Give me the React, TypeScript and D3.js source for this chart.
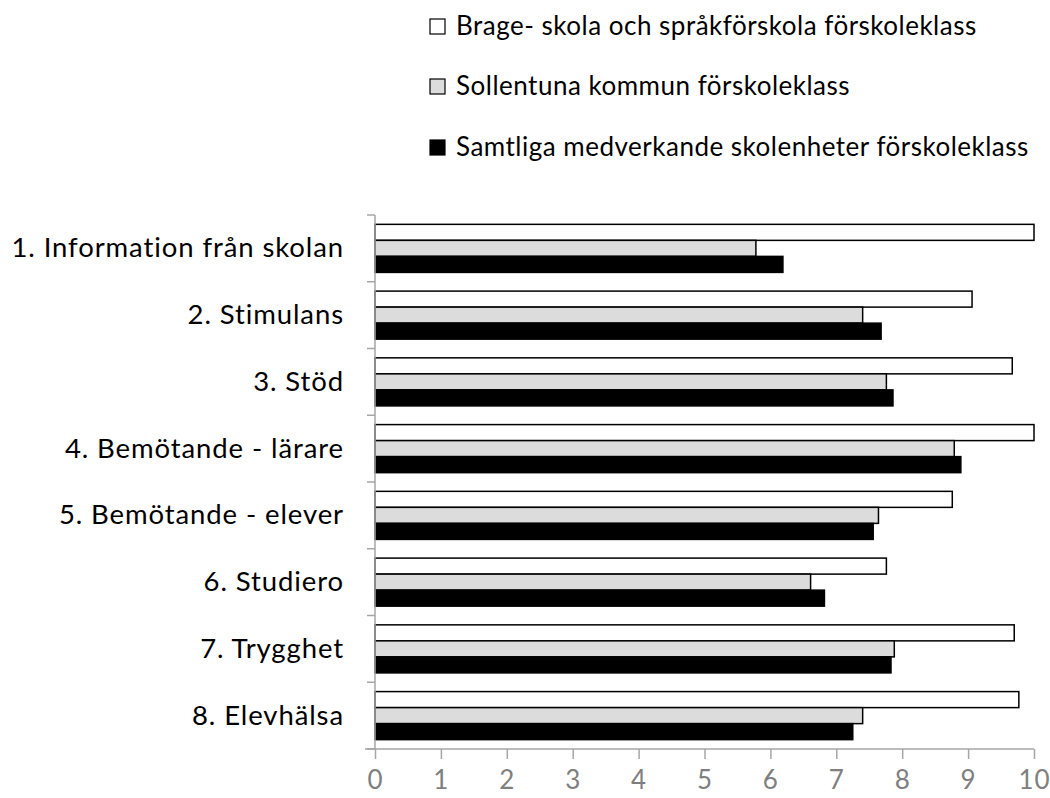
import React, { useRef, useEffect } from 'react';
import * as d3 from 'd3';

// categories (top to bottom)
const categories = [
    '1. Information från skolan',
    '2. Stimulans',
    '3. Stöd',
    '4. Bemötande - lärare',
    '5. Bemötande - elever',
    '6. Studiero',
    '7. Trygghet',
    '8. Elevhälsa',
];

const seriesNames = [
    'Brage- skola och språkförskola förskoleklass',
    'Sollentuna kommun förskoleklass',
    'Samtliga medverkande skolenheter förskoleklass',
];

const brage = [10, 9.06, 9.67, 10, 8.76, 7.76, 9.7, 9.77];
const sollentuna = [5.78, 7.4, 7.76, 8.79, 7.64, 6.61, 7.88, 7.4];
const samtliga = [6.19, 7.68, 7.86, 8.89, 7.56, 6.82, 7.83, 7.25];

const xTicks = [0, 1, 2, 3, 4, 5, 6, 7, 8, 9, 10];

const fills = ['#ffffff', '#dcdcdc', '#000000'];

const WIDTH = 1050;
const HEIGHT = 798;

const App = () => {
    const svgRef = useRef<SVGSVGElement>(null);

    useEffect(() => {
        const svg = d3.select(svgRef.current);
        svg.selectAll('*').remove();

        const font = 'Lato, Calibri, "Noto Sans", sans-serif';
        const values = [brage, sollentuna, samtliga];

        // Scales
        const x = d3.scaleLinear().domain([0, 10]).range([375, 1034]);
        const y = d3.scaleBand()
            .domain(categories)
            .range([215, 749])
            .paddingInner(0.28)
            .paddingOuter(0.14);
        const ySub = d3.scaleBand()
            .domain(seriesNames)
            .range([0, y.bandwidth()]);

        // Bars
        const rows = svg.append('g').selectAll('g')
            .data(categories)
            .enter()
            .append('g')
            .attr('transform', d => 'translate(0,' + y(d) + ')');

        rows.selectAll('rect')
            .data((d, i) => seriesNames.map((s, j) => ({ s, j, v: values[j][i] })))
            .enter()
            .append('rect')
            .attr('x', x(0))
            .attr('y', d => ySub(d.s)!)
            .attr('width', d => x(d.v) - x(0))
            .attr('height', ySub.bandwidth())
            .attr('fill', d => fills[d.j])
            .attr('stroke', '#000')
            .attr('stroke-width', 1.5);

        // X axis
        const xAxis = svg.append('g')
            .attr('transform', 'translate(0,749)')
            .call(d3.axisBottom(x).tickValues(xTicks).tickSize(10).tickSizeOuter(0).tickPadding(30));
        xAxis.select('.domain').remove();
        xAxis.append('line')
            .attr('x1', 365).attr('x2', x(10))
            .attr('stroke', '#a6a6a6').attr('stroke-width', 1.5);
        xAxis.selectAll('.tick line').attr('stroke', '#a6a6a6').attr('stroke-width', 1.5);
        xAxis.selectAll('.tick text')
            .attr('fill', '#7f7f7f')
            .attr('dy', 0)
            .style('font-family', font)
            .style('font-size', '26px')
            .style('letter-spacing', '1px');

        // Y axis
        const yAxis = svg.append('g');
        yAxis.append('line')
            .attr('x1', x(0)).attr('x2', x(0))
            .attr('y1', y.range()[0]).attr('y2', y.range()[1])
            .attr('stroke', '#a6a6a6').attr('stroke-width', 1.5);
        const bounds = categories.map(c => y(c)! - y.step() * y.paddingInner() / 2)
            .concat([y.range()[1]]);
        yAxis.selectAll('.ytick')
            .data(bounds)
            .enter()
            .append('line')
            .attr('x1', x(0) - 8).attr('x2', x(0))
            .attr('y1', d => d).attr('y2', d => d)
            .attr('stroke', '#a6a6a6').attr('stroke-width', 1.5);
        yAxis.selectAll('text')
            .data(categories)
            .enter()
            .append('text')
            .attr('x', 344)
            .attr('y', d => y(d)! + y.bandwidth() / 2 + 9)
            .attr('text-anchor', 'end')
            .attr('fill', '#000')
            .style('font-family', font)
            .style('font-size', '27.5px')
            .style('letter-spacing', '0.9px')
            .text(d => d);

        // Legend
        const legendY = [26.5, 86.5, 147.5];
        const legend = svg.append('g').selectAll('g')
            .data(seriesNames)
            .enter()
            .append('g')
            .attr('transform', (d, i) => 'translate(430,' + legendY[i] + ')');
        legend.append('rect')
            .attr('x', 0).attr('y', -7.5)
            .attr('width', 15).attr('height', 15)
            .attr('fill', (d, i) => fills[i])
            .attr('stroke', '#000')
            .attr('stroke-width', 1.2);
        legend.append('text')
            .attr('x', 26)
            .attr('y', 8.5)
            .attr('fill', '#000')
            .style('font-family', font)
            .style('font-size', '26px')
            .style('letter-spacing', '0.5px')
            .text(d => d);
    }, []);

    return (
        <svg
            ref={svgRef}
            width={WIDTH}
            height={HEIGHT}
            style={{ position: 'absolute', left: 0, top: 0, background: '#fff' }}
        />
    );
};

export default App;
